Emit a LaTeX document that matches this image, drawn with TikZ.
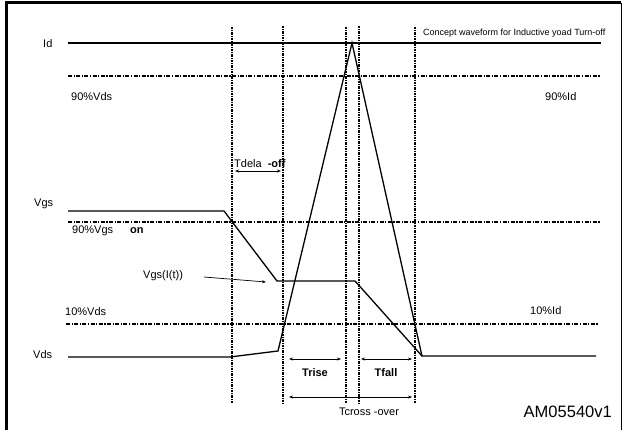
\documentclass[tikz,border=0pt]{standalone}
\usepackage{fontspec}
\setmainfont{Liberation Sans}
\usetikzlibrary{arrows.meta}
\begin{document}
\begin{tikzpicture}[x=1pt,y=-1pt,
  wave/.style={line width=1.3pt, line join=miter},
  level/.style={line width=1.3pt, dash pattern=on 4pt off 1.5pt on 1.2pt off 1.5pt},
  vmark/.style={line width=1.3pt, dash pattern=on 2.5pt off 1pt on 1pt off 1pt},
  lab/.style={font=\fontsize{11}{13}\selectfont, inner sep=0pt, anchor=west},
  dim/.style={line width=0.7pt, {Stealth[length=4pt,width=3pt]}-{Stealth[length=4pt,width=3pt]}},
  ptr/.style={line width=0.7pt, -{Stealth[length=4pt,width=3pt]}},
]
\useasboundingbox (0,0) rectangle (622,430);
% frame
\draw[line width=3pt] (6,430) -- (6,3) -- (621,3);
\draw[line width=1pt] (621,3) -- (621,430);

% horizontal reference levels
\draw[level] (68,76) -- (600,76);
\draw[level] (68,222) -- (600,222);
\draw[level] (66,324) -- (598,324);

% vertical time markers
\coordinate (v1t) at (232,27); \coordinate (v1b) at (232,404);
\coordinate (v2t) at (283,26); \coordinate (v2b) at (283,404);
\coordinate (v3t) at (346,27); \coordinate (v3b) at (346,404);
\coordinate (v4t) at (359,26); \coordinate (v4b) at (359,404);
\coordinate (v5t) at (415,27); \coordinate (v5b) at (415,404);
\draw[vmark] (v1t) -- (v1b);
\draw[vmark] (v2t) -- (v2b);
\draw[vmark] (v3t) -- (v3b);
\draw[vmark] (v4t) -- (v4b);
\draw[vmark] (v5t) -- (v5b);

% waveforms
\coordinate (peak) at (352,43);
\coordinate (knee) at (278,351);
\coordinate (endp) at (422,356);
\draw[wave] (68,43) -- (601,43);
\draw[wave] (68,357) -- (230,357) -- (knee) -- (peak) -- (endp) -- (596,356);
\draw[wave] (68,211) -- (224,211) -- (277,281) -- (355,281) -- (endp);

% labels
\node[lab] at (43,44) {Id};
\node[lab] at (34,204) {Vgs};
\node[lab] at (33,355) {Vds};
\node[lab] at (71,97) {90\%Vds};
\node[lab] at (545,97) {90\%Id};
\node[lab] at (72,231) {90\%Vgs};
\node[lab] at (130,231) {\bfseries on};
\node[lab] (vgsi) at (143,276) {Vgs(I(t))};
\node[lab] at (65,312) {10\%Vds};
\node[lab] at (530,311) {10\%Id};
\node[lab] at (234,164) {Tdela\ \ \bfseries -off};
\node[lab, font=\fontsize{9}{11}\selectfont] at (423,33) {Concept waveform for Inductive yoad Turn-off};
\node[lab, anchor=center, font=\fontsize{11}{13}\selectfont\bfseries] at (315,373) {Trise};
\node[lab, anchor=center, font=\fontsize{11}{13}\selectfont\bfseries] at (386,373) {Tfall};
\node[lab, anchor=center] at (369,412) {Tcross -over};
\node[lab, anchor=east, font=\fontsize{16.5}{19}\selectfont] at (612,412) {AM05540v1};

% pointers and dimensions
\coordinate (pA) at (204,277); \coordinate (pB) at (266,282);
\draw[ptr] (pA) -- (pB);
\coordinate (d1a) at (235,171); \coordinate (d1b) at (281,171);
\draw[dim] (d1a) -- (d1b);
\coordinate (d2a) at (289,359); \coordinate (d2b) at (341,359);
\draw[dim] (d2a) -- (d2b);
\coordinate (d3a) at (361,359); \coordinate (d3b) at (412,359);
\draw[dim] (d3a) -- (d3b);
\coordinate (d4a) at (289,397); \coordinate (d4b) at (412,397);
\draw[dim] (d4a) -- (d4b);
\end{tikzpicture}
\end{document}
